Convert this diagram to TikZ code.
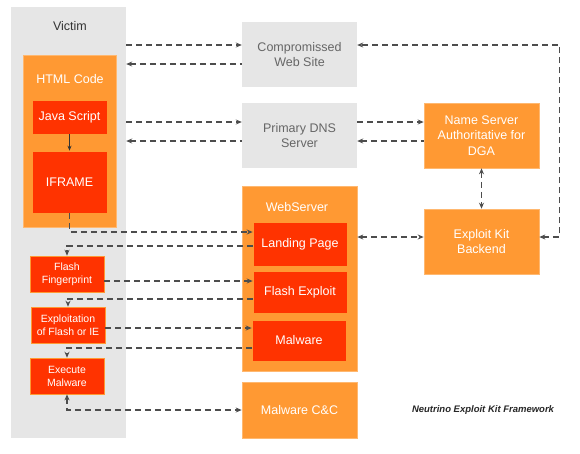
\documentclass[tikz,border=0pt]{standalone}
\usepackage{fontspec}
\setmainfont{Liberation Sans}
\usetikzlibrary{arrows.meta}
\definecolor{boxgrey}{HTML}{E6E6E6}
\definecolor{boxorange}{HTML}{FF9933}
\definecolor{boxred}{HTML}{FF3300}
\definecolor{txtgrey}{HTML}{666666}
\definecolor{linegrey}{HTML}{4D4D4D}
\begin{document}
\begin{tikzpicture}[x=1pt,y=-1pt,
  greybox/.style={fill=boxgrey,text=txtgrey,align=center,inner sep=0pt,minimum width=115pt,font=\fontsize{12.5}{15.5}\selectfont},
  orngbox/.style={fill=boxorange,draw=boxorange!70!white,line width=0.6pt,text=white,align=center,inner sep=0pt,font=\fontsize{12.5}{15.5}\selectfont},
  redbox/.style={fill=boxred,draw=boxorange,line width=0.6pt,text=white,align=center,inner sep=0pt,font=\fontsize{12.5}{15.5}\selectfont},
  smallbox/.style={redbox,minimum width=74pt,minimum height=36pt,font=\fontsize{10.5}{13}\selectfont},
  dline/.style={draw=linegrey,line width=1.1pt,dash pattern=on 6pt off 4pt,>={Stealth[length=6pt,width=5pt]}}]
\useasboundingbox (0,0) rectangle (580,453);
\node[fill=boxgrey,inner sep=0pt,minimum width=115pt,minimum height=431pt] (v) at (68.5,222.5) {};
\node[text=black!80,font=\fontsize{12.5}{15.5}\selectfont] (vl) at (70,26) {Victim};
\node[orngbox,minimum width=93pt,minimum height=172pt] (html) at (69.5,141) {};
\node[text=white,font=\fontsize{12.5}{15.5}\selectfont] (htmll) at (70,79) {HTML Code};
\node[redbox,minimum width=75pt,minimum height=34pt] (js) at (69.5,117) {Java Script};
\node[redbox,minimum width=75pt,minimum height=62pt] (ifr) at (69.5,182) {IFRAME};
\node[smallbox] (ff) at (67,274) {Flash\\Fingerprint};
\node[smallbox] (expl) at (68,325) {Exploitation\\of Flash or IE};
\node[smallbox] (exec) at (67,376) {Execute\\Malware};
\node[greybox,minimum height=65pt] (cws) at (299.5,54.5) {Compromissed\\Web Site};
\node[greybox,minimum height=65pt] (dns) at (299.5,135.5) {Primary DNS\\Server};
\node[orngbox,minimum width=115pt,minimum height=185pt] (websrv) at (299.5,278.5) {};
\node[text=white,font=\fontsize{12.5}{15.5}\selectfont] (websrvl) at (297,207) {WebServer};
\node[redbox,minimum width=94pt,minimum height=44pt] (landing) at (300,244) {Landing Page};
\node[redbox,minimum width=94pt,minimum height=42pt] (flashx) at (300,292) {Flash Exploit};
\node[redbox,minimum width=94pt,minimum height=41pt] (malw) at (299,340.5) {Malware};
\node[orngbox,minimum width=115pt,minimum height=56pt] (cnc) at (299.5,410) {Malware C\&C};
\node[orngbox,minimum width=115pt,minimum height=65pt] (ns) at (481.5,135.5) {Name Server\\Authoritative for\\DGA};
\node[orngbox,minimum width=115pt,minimum height=65pt] (ekb) at (481.5,241.5) {Exploit Kit\\Backend};
\node[text=black!85,font=\fontsize{9.5}{11}\selectfont\bfseries\itshape] (cap) at (483,410) {Neutrino Exploit Kit Framework};
\draw[line width=0.8pt,black!80,-{Stealth[length=5pt,width=4pt]}] (js) -- (ifr);
\draw[dline,->] ([yshift=9.5pt]cws.west -| v.east) -- ([yshift=9.5pt]cws.west);
\draw[dline,<-] ([yshift=-9.5pt]cws.west -| v.east) -- ([yshift=-9.5pt]cws.west);
\draw[dline,->] ([yshift=13.5pt]dns.west -| v.east) -- ([yshift=13.5pt]dns.west);
\draw[dline,<-] ([yshift=-5.5pt]dns.west -| v.east) -- ([yshift=-5.5pt]dns.west);
\draw[dline,->] ([yshift=13.5pt]dns.east) -- ([yshift=13.5pt]ns.west);
\draw[dline,<-] ([yshift=-5.5pt]dns.east) -- ([yshift=-5.5pt]ns.west);
\draw[dline,<->] (ns.south) -- (ekb.north);
\draw[dline,<->] ([yshift=4.5pt]ekb.west -| websrv.east) -- ([yshift=4.5pt]ekb.west);
\draw[dline,<->] ([yshift=4.5pt]ekb.east) -- ++(20,0) |- ([yshift=9.5pt]cws.east);
\draw[dline,->] (ifr.south) |- ([yshift=12pt]landing.west);
\draw[dline,->] ([yshift=-2pt]landing.west) -| (ff.north);
\draw[dline,->] ([yshift=-7pt]ff.east) -- ([yshift=-7pt]ff.east -| flashx.west);
\draw[dline,->] ([yshift=-7pt]flashx.west) -| (expl.north);
\draw[dline,->] ([yshift=-3pt]expl.east) -- ([yshift=-3pt]expl.east -| malw.west);
\draw[dline,->] ([yshift=-7.5pt]malw.west) -| (exec.north);
\draw[dline,<->] (exec.south) |- (cnc.west);
\end{tikzpicture}
\end{document}
